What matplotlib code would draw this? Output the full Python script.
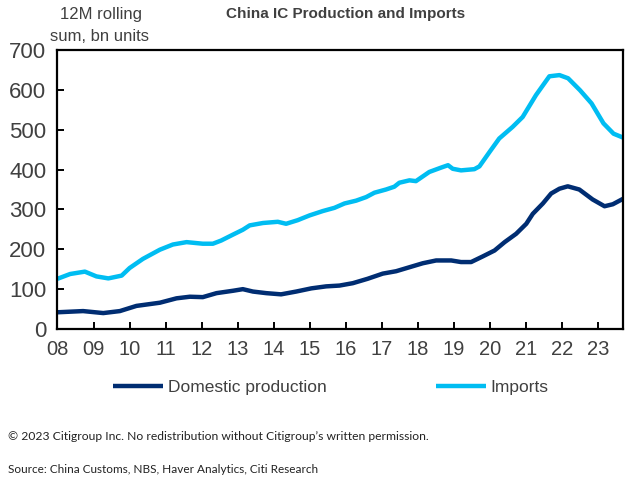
import matplotlib
matplotlib.use("Agg")
import matplotlib.pyplot as plt
from matplotlib import font_manager

# values (year fraction, bn units, 12M rolling sum)
imp_x = [2008.0, 2008.35, 2008.76, 2009.08, 2009.41, 2009.78, 2010.0, 2010.37, 2010.84, 2011.2,
         2011.58, 2012.03, 2012.31, 2012.54, 2012.87, 2013.14, 2013.33, 2013.70, 2014.11, 2014.34,
         2014.66, 2014.99, 2015.36, 2015.68, 2015.96, 2016.28, 2016.56, 2016.79, 2017.11, 2017.34,
         2017.48, 2017.76, 2017.94, 2018.31, 2018.64, 2018.83, 2018.96, 2019.19, 2019.56, 2019.70,
         2019.98, 2020.25, 2020.62, 2020.90, 2021.27, 2021.64, 2021.92, 2022.16, 2022.49, 2022.81,
         2023.14, 2023.42, 2023.69]
imports = [126, 138, 144, 132, 127, 134, 153, 176, 199, 212,
           218, 214, 214, 222, 237, 249, 260, 266, 269, 264,
           273, 285, 296, 304, 315, 322, 331, 342, 350, 357,
           367, 373, 371, 394, 405, 411, 402, 398, 401, 408,
           444, 478, 507, 532, 587, 634, 637, 629, 599, 566,
           516, 490, 480]

dom_x = [2008.0, 2008.71, 2009.27, 2009.73, 2010.19, 2010.84, 2011.3, 2011.67, 2012.03, 2012.41,
         2012.87, 2013.14, 2013.42, 2013.79, 2014.2, 2014.62, 2015.04, 2015.45, 2015.82, 2016.19,
         2016.6, 2017.02, 2017.39, 2017.76, 2018.13, 2018.5, 2018.92, 2019.19, 2019.47, 2019.79,
         2020.12, 2020.4, 2020.72, 2021.0, 2021.18, 2021.46, 2021.69, 2021.92, 2022.15, 2022.47,
         2022.84, 2023.17, 2023.4, 2023.69]
domestic = [42, 45, 40, 45, 58, 66, 77, 81, 80, 90,
            96, 100, 94, 90, 87, 94, 102, 107, 109, 115,
            126, 139, 145, 155, 165, 172, 172, 168, 168, 182,
            197, 218, 239, 264, 289, 315, 340, 352, 358, 350,
            325, 308, 313, 327]

years = list(range(2008, 2024))
year_labels = [f"{y % 100:02d}" for y in years]

# narrow font if present
names = {f.name for f in font_manager.fontManager.ttflist}
narrow = "Liberation Sans Narrow" if "Liberation Sans Narrow" in names else "Liberation Sans"

DARK = "#002D72"
LIGHT = "#00BDF2"
GREY = "#404040"

plt.rcParams["font.family"] = [narrow, "DejaVu Sans"]

fig = plt.figure(figsize=(6.4, 4.83), dpi=100)
ax = fig.add_axes([0.0898, 0.3188, 0.8841, 0.5777])

ax.plot(dom_x, domestic, color=DARK, lw=3.2, label="Domestic production", solid_capstyle="butt")
ax.plot(imp_x, imports, color=LIGHT, lw=3.2, label="Imports", solid_capstyle="butt")

ax.set_xlim(2008, 2023.69)
ax.set_ylim(0, 700)
ax.set_xticks(years)
ax.set_xticklabels(year_labels)
ax.set_yticks(range(0, 701, 100))

for s in ax.spines.values():
    s.set_linewidth(1.6)
    s.set_color("black")
ax.tick_params(direction="in", length=5, width=1.4, labelcolor=GREY, pad=8)
ax.tick_params(axis="y", labelsize=16)
ax.tick_params(axis="x", labelsize=14.5)

fig.text(0.158, 0.971, "12M rolling", ha="center", va="center", fontsize=12, color=GREY)
fig.text(0.155, 0.925, "sum, bn units", ha="center", va="center", fontsize=12, color=GREY)
fig.text(0.54, 0.971, "China IC Production and Imports", ha="center", va="center",
         fontsize=11, fontweight="bold", color=GREY)

fig.legend(loc="center", bbox_to_anchor=(0.517, 0.197), ncol=2, frameon=False,
           fontsize=12.5, handlelength=2.9, handletextpad=0.25, columnspacing=6.3,
           labelcolor=GREY)

fig.text(0.0125, 0.097, "\u00a9 2023 Citigroup Inc. No redistribution without Citigroup\u2019s written permission.",
         fontsize=8.7, color="#222222", family=["Lato", "DejaVu Sans"], va="center")
fig.text(0.0125, 0.027, "Source: China Customs, NBS, Haver Analytics, Citi Research",
         fontsize=8.5, color="#222222", family=["Lato", "DejaVu Sans"], va="center")

fig.savefig("out.png", dpi=100)
